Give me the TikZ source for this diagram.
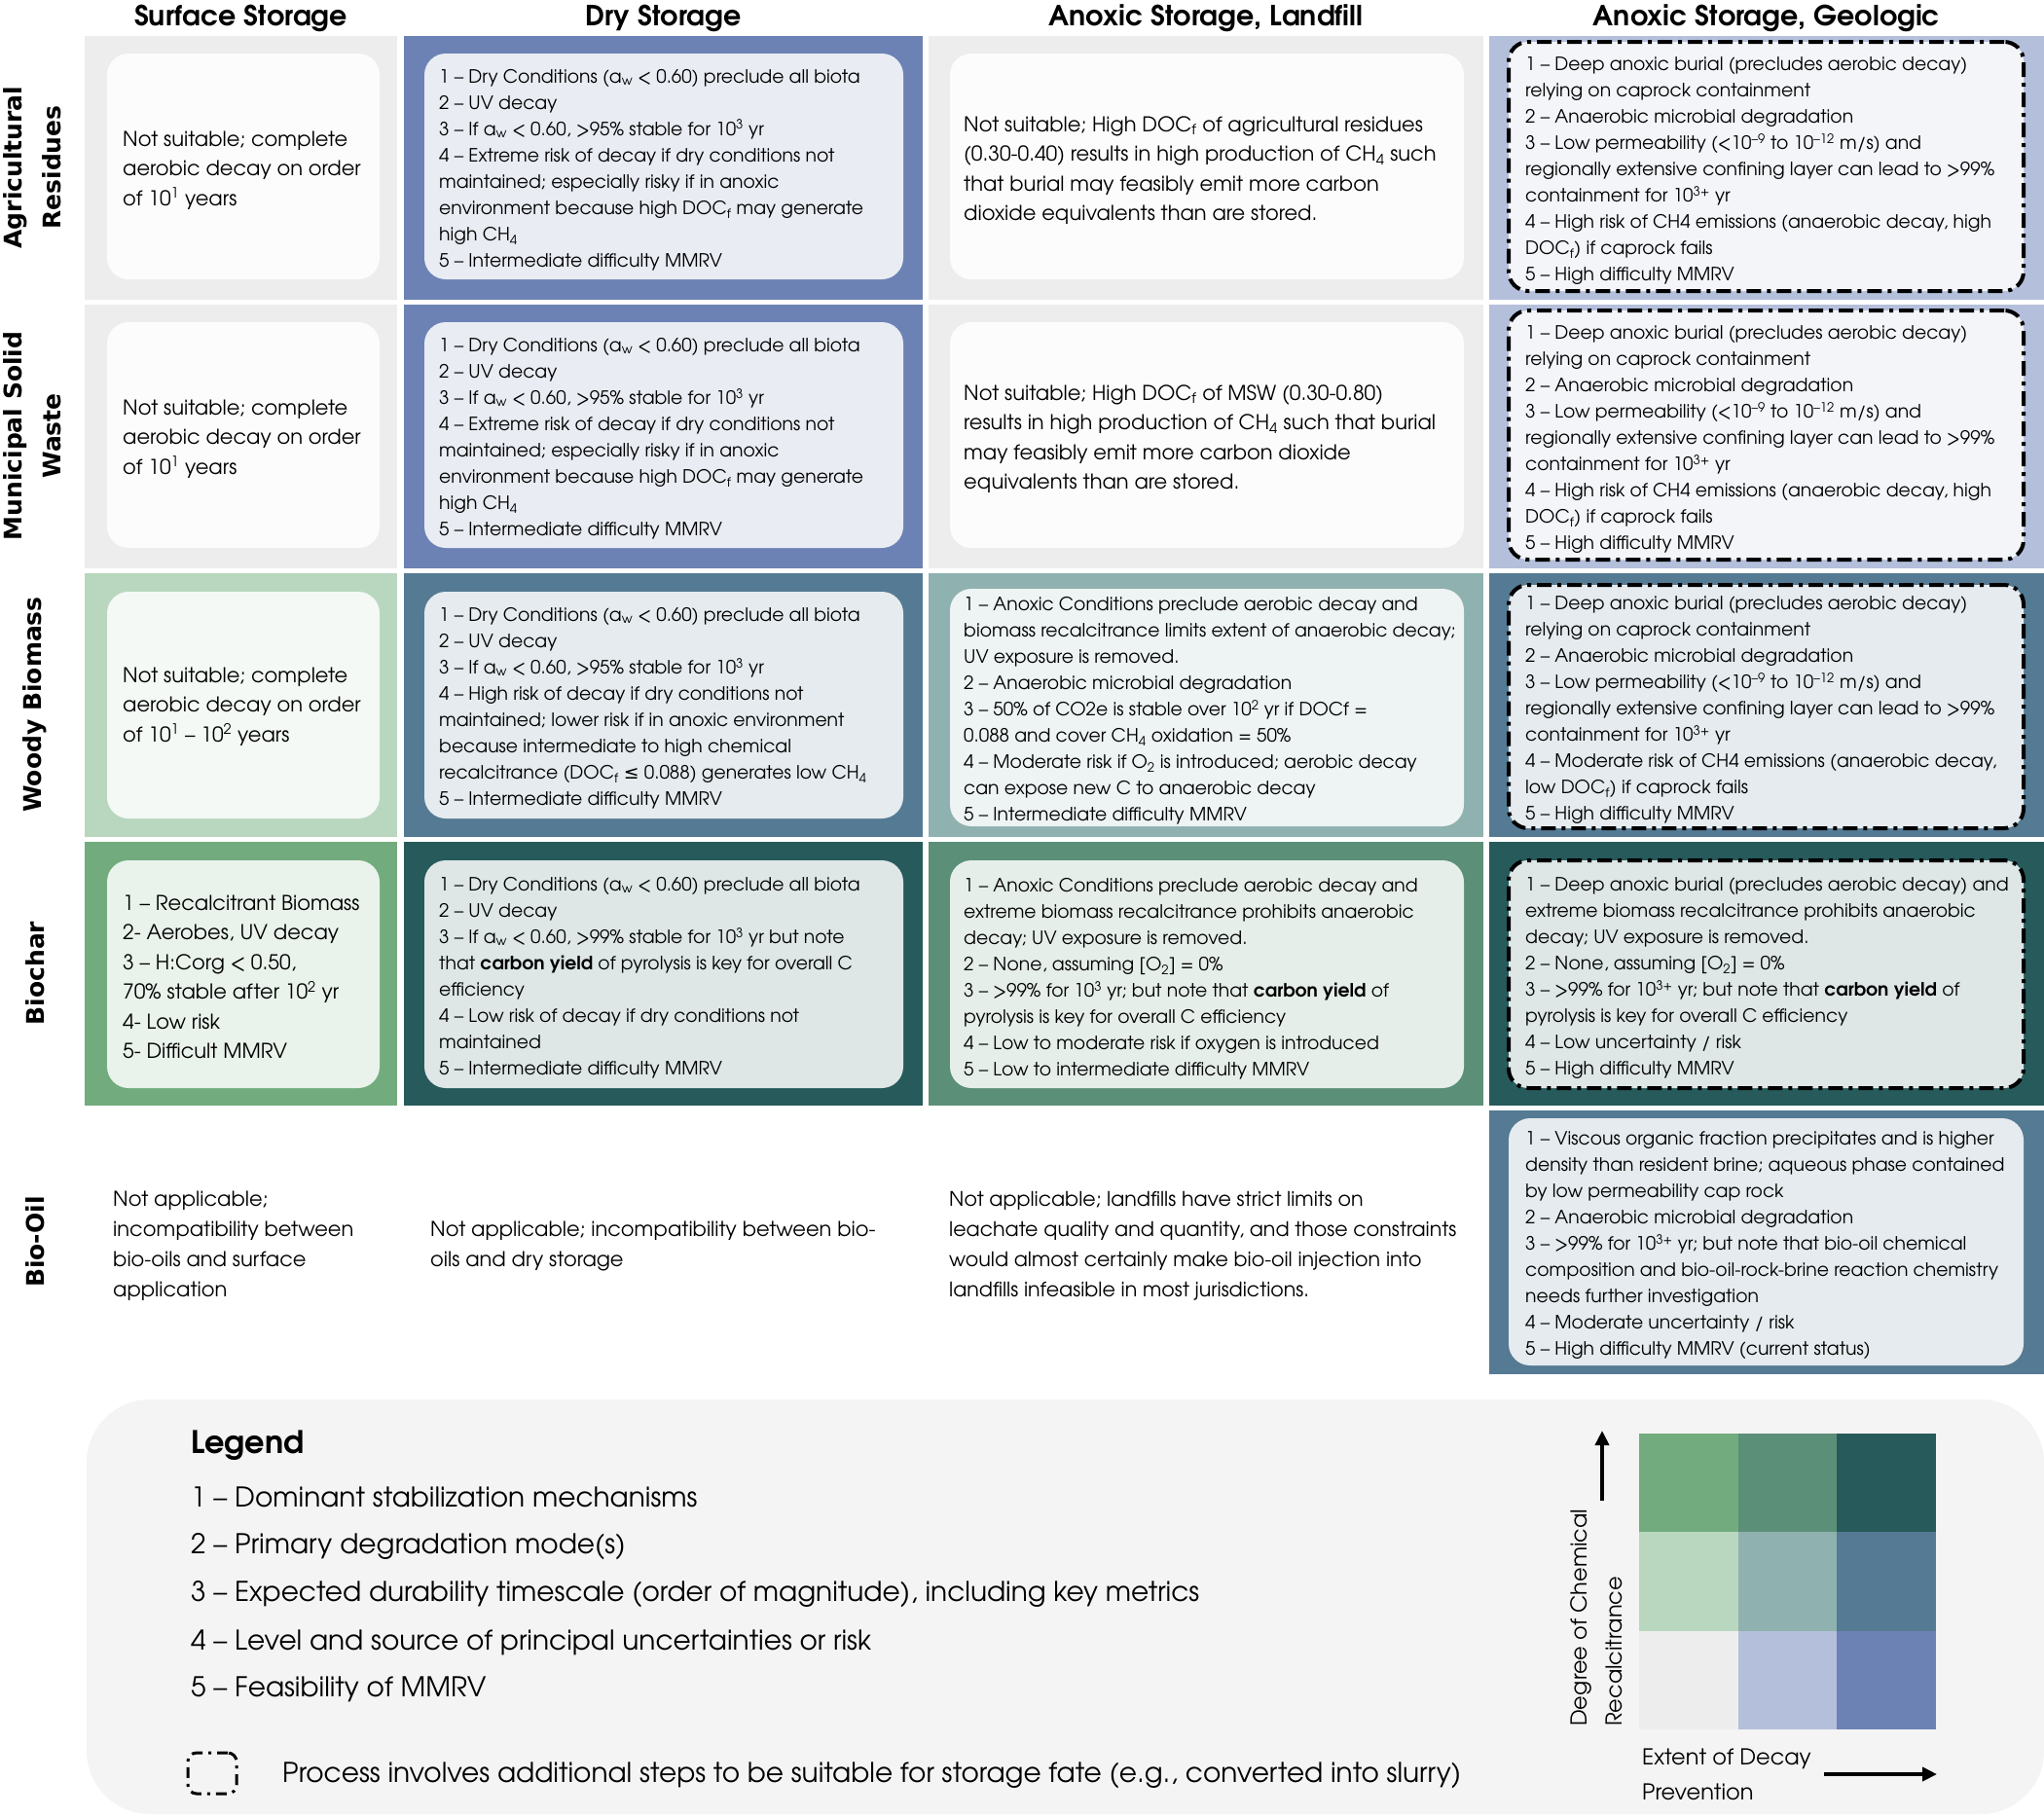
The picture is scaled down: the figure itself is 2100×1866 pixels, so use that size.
\documentclass[tikz,border=0pt]{standalone}
\usepackage{fontspec}
\setmainfont{texgyreadventor}[Extension=.otf, UprightFont=*-regular, BoldFont=*-bold, ItalicFont=*-italic, BoldItalicFont=*-bolditalic]
\newfontfamily\labelfont{DejaVu Sans}
\newfontfamily\symfont{DejaVu Sans}
\usetikzlibrary{arrows.meta}
\definecolor{cgrey}{HTML}{EDEDED}
\definecolor{clav}{HTML}{B4BFDB}
\definecolor{cblue}{HTML}{6C82B5}
\definecolor{clgreen}{HTML}{B9D7BE}
\definecolor{cteal}{HTML}{8FB1AF}
\definecolor{csteel}{HTML}{557A93}
\definecolor{cgreen}{HTML}{72AC7E}
\definecolor{cmid}{HTML}{5B8F77}
\definecolor{cdark}{HTML}{275A5B}
\definecolor{clegend}{HTML}{F4F4F4}
\newcommand{\sbs}[1]{\textsubscript{#1}}
\newcommand{\sps}[1]{\textsuperscript{#1}}
\begin{document}
\begin{tikzpicture}[x=1pt,y=-1pt,
  cellbg/.style={draw=none, inner sep=0pt, outer sep=0pt, anchor=north west},
  ibox/.style={draw=none, fill=white, fill opacity=0.85, rounded corners=22pt, inner sep=0pt, outer sep=0pt, anchor=north west},
  dbox/.style={draw=black, line width=4pt, dash pattern=on 15pt off 6pt on 4pt off 6pt, fill=white, fill opacity=0.85, draw opacity=1, rounded corners=20pt, inner sep=0pt, outer sep=0pt, anchor=north west},
  itext/.style={anchor=west, align=left, inner sep=0pt, yshift=-2.5pt, font=\fontsize{18.8}{27}\selectfont},
  ptext/.style={anchor=west, align=left, inner sep=0pt, yshift=-2pt, font=\fontsize{21}{30.5}\selectfont},
  header/.style={anchor=base, inner sep=0pt, font=\fontsize{28.5}{30}\selectfont\bfseries},
  rowlabel/.style={rotate=90, align=center, inner sep=0pt, font=\fontsize{25}{40}\selectfont\labelfont\bfseries},
  legtext/.style={anchor=west, inner sep=0pt, font=\fontsize{28}{30}\selectfont},
  axtext/.style={anchor=west, inner sep=0pt, font=\fontsize{22.5}{26}\selectfont},
  axarrow/.style={line width=4pt, -{Triangle[length=15pt,width=14pt]}}
]
\useasboundingbox (0,0) rectangle (2100,1866);
\fill[white] (0,0) rectangle (2100,1866);

% headers
\node[header] (h1) at (247.5,26) {Surface Storage};
\node[header] (h2) at (681.5,26) {Dry Storage};
\node[header] (h3) at (1239,26) {Anoxic Storage, Landfill};
\node[header] (h4) at (1815,26) {Anoxic Storage, Geologic};

% row labels
\node[rowlabel] (l1) at (33,172) {Agricultural\\Residues};
\node[rowlabel] (l2) at (33,448) {Municipal Solid\\Waste};
\node[rowlabel] (l3) at (36,724) {Woody Biomass};
\node[rowlabel] (l4) at (36,1000) {Biochar};
\node[rowlabel] (l5) at (36,1276) {Bio-Oil};

% ===== Row 1: Agricultural residues
\node[cellbg, fill=cgrey, minimum width=321pt, minimum height=271pt] (ag-c1) at (87,37) {};
\node[cellbg, fill=cblue, minimum width=533pt, minimum height=271pt] (ag-c2) at (415,37) {};
\node[cellbg, fill=cgrey, minimum width=570pt, minimum height=271pt] (ag-c3) at (954,37) {};
\node[cellbg, fill=clav, minimum width=570pt, minimum height=271pt] (ag-c4) at (1530,37) {};
\node[ibox, minimum width=280pt, minimum height=232pt] (ag-b1) at (110,55) {};
\node[ibox, minimum width=492pt, minimum height=232pt] (ag-b2) at (436,55) {};
\node[ibox, minimum width=528pt, minimum height=232pt] (ag-b3) at (976,55) {};
\node[dbox, minimum width=529pt, minimum height=256pt] (ag-b4) at (1550,43) {};
\node[ptext] (ag-t1) at (126,173) {Not suitable; complete\\aerobic decay on order\\of 10\sps{1} years};
\node[itext] (ag-t2) at (451,172) {1 – Dry Conditions (a\sbs{w} < 0.60) preclude all biota\\2 – UV decay\\3 – If a\sbs{w} < 0.60, >95\% stable for 10\sps{3} yr\\4 – Extreme risk of decay if dry conditions not\\maintained; especially risky if in anoxic\\environment because high DOC\sbs{f} may generate\\high CH\sbs{4}\\5 – Intermediate difficulty MMRV};
\node[ptext] (ag-t3) at (990,173) {Not suitable; High DOC\sbs{f} of agricultural residues\\(0.30-0.40) results in high production of CH\sbs{4} such\\that burial may feasibly emit more carbon\\dioxide equivalents than are stored.};
\node[itext] (ag-t4) at (1567,173) {1 – Deep anoxic burial (precludes aerobic decay)\\relying on caprock containment\\2 – Anaerobic microbial degradation\\3 – Low permeability (<10\sps{–9} to 10\sps{–12} m/s) and\\regionally extensive confining layer can lead to >99\%\\containment for 10\sps{3+} yr\\4 – High risk of CH4 emissions (anaerobic decay, high\\DOC\sbs{f}) if caprock fails\\5 – High difficulty MMRV};

% ===== Row 2: MSW
\node[cellbg, fill=cgrey, minimum width=321pt, minimum height=271pt] (ms-c1) at (87,313) {};
\node[cellbg, fill=cblue, minimum width=533pt, minimum height=271pt] (ms-c2) at (415,313) {};
\node[cellbg, fill=cgrey, minimum width=570pt, minimum height=271pt] (ms-c3) at (954,313) {};
\node[cellbg, fill=clav, minimum width=570pt, minimum height=271pt] (ms-c4) at (1530,313) {};
\node[ibox, minimum width=280pt, minimum height=232pt] (ms-b1) at (110,331) {};
\node[ibox, minimum width=492pt, minimum height=232pt] (ms-b2) at (436,331) {};
\node[ibox, minimum width=528pt, minimum height=232pt] (ms-b3) at (976,331) {};
\node[dbox, minimum width=529pt, minimum height=256pt] (ms-b4) at (1550,319) {};
\node[ptext] (ms-t1) at (126,449) {Not suitable; complete\\aerobic decay on order\\of 10\sps{1} years};
\node[itext] (ms-t2) at (451,448) {1 – Dry Conditions (a\sbs{w} < 0.60) preclude all biota\\2 – UV decay\\3 – If a\sbs{w} < 0.60, >95\% stable for 10\sps{3} yr\\4 – Extreme risk of decay if dry conditions not\\maintained; especially risky if in anoxic\\environment because high DOC\sbs{f} may generate\\high CH\sbs{4}\\5 – Intermediate difficulty MMRV};
\node[ptext] (ms-t3) at (990,449) {Not suitable; High DOC\sbs{f} of MSW (0.30-0.80)\\results in high production of CH\sbs{4} such that burial\\may feasibly emit more carbon dioxide\\equivalents than are stored.};
\node[itext] (ms-t4) at (1567,449) {1 – Deep anoxic burial (precludes aerobic decay)\\relying on caprock containment\\2 – Anaerobic microbial degradation\\3 – Low permeability (<10\sps{–9} to 10\sps{–12} m/s) and\\regionally extensive confining layer can lead to >99\%\\containment for 10\sps{3+} yr\\4 – High risk of CH4 emissions (anaerobic decay, high\\DOC\sbs{f}) if caprock fails\\5 – High difficulty MMRV};

% ===== Row 3: Woody biomass
\node[cellbg, fill=clgreen, minimum width=321pt, minimum height=271pt] (wo-c1) at (87,589) {};
\node[cellbg, fill=csteel, minimum width=533pt, minimum height=271pt] (wo-c2) at (415,589) {};
\node[cellbg, fill=cteal, minimum width=570pt, minimum height=271pt] (wo-c3) at (954,589) {};
\node[cellbg, fill=csteel, minimum width=570pt, minimum height=271pt] (wo-c4) at (1530,589) {};
\node[ibox, minimum width=280pt, minimum height=233pt] (wo-b1) at (110,608) {};
\node[ibox, minimum width=492pt, minimum height=233pt] (wo-b2) at (436,608) {};
\node[ibox, minimum width=528pt, minimum height=244pt] (wo-b3) at (976,605) {};
\node[dbox, minimum width=529pt, minimum height=250pt] (wo-b4) at (1550,601) {};
\node[ptext] (wo-t1) at (126,724) {Not suitable; complete\\aerobic decay on order\\of 10\sps{1} – 10\sps{2} years};
\node[itext] (wo-t2) at (451,725) {1 – Dry Conditions (a\sbs{w} < 0.60) preclude all biota\\2 – UV decay\\3 – If a\sbs{w} < 0.60, >95\% stable for 10\sps{3} yr\\4 – High risk of decay if dry conditions not\\maintained; lower risk if in anoxic environment\\because intermediate to high chemical\\recalcitrance (DOC\sbs{f} {\symfont ≤} 0.088) generates low CH\sbs{4}\\5 – Intermediate difficulty MMRV};
\node[itext] (wo-t3) at (990,728) {1 – Anoxic Conditions preclude aerobic decay and\\biomass recalcitrance limits extent of anaerobic decay;\\UV exposure is removed.\\2 – Anaerobic microbial degradation\\3 – 50\% of CO2e is stable over 10\sps{2} yr if DOCf =\\0.088 and cover CH\sbs{4} oxidation = 50\%\\4 – Moderate risk if O\sbs{2} is introduced; aerobic decay\\can expose new C to anaerobic decay\\5 – Intermediate difficulty MMRV};
\node[itext] (wo-t4) at (1567,727) {1 – Deep anoxic burial (precludes aerobic decay)\\relying on caprock containment\\2 – Anaerobic microbial degradation\\3 – Low permeability (<10\sps{–9} to 10\sps{–12} m/s) and\\regionally extensive confining layer can lead to >99\%\\containment for 10\sps{3+} yr\\4 – Moderate risk of CH4 emissions (anaerobic decay,\\low DOC\sbs{f}) if caprock fails\\5 – High difficulty MMRV};

% ===== Row 4: Biochar
\node[cellbg, fill=cgreen, minimum width=321pt, minimum height=271pt] (bc-c1) at (87,865) {};
\node[cellbg, fill=cdark, minimum width=533pt, minimum height=271pt] (bc-c2) at (415,865) {};
\node[cellbg, fill=cmid, minimum width=570pt, minimum height=271pt] (bc-c3) at (954,865) {};
\node[cellbg, fill=cdark, minimum width=570pt, minimum height=271pt] (bc-c4) at (1530,865) {};
\node[ibox, minimum width=280pt, minimum height=234pt] (bc-b1) at (110,884) {};
\node[ibox, minimum width=492pt, minimum height=234pt] (bc-b2) at (436,884) {};
\node[ibox, minimum width=528pt, minimum height=234pt] (bc-b3) at (976,884) {};
\node[dbox, minimum width=529pt, minimum height=234pt] (bc-b4) at (1550,884) {};
\node[ptext] (bc-t1) at (126,1002) {1 – Recalcitrant Biomass\\2- Aerobes, UV decay\\3 – H:Corg < 0.50,\\70\% stable after 10\sps{2} yr\\4- Low risk\\5- Difficult MMRV};
\node[itext] (bc-t2) at (451,1002) {1 – Dry Conditions (a\sbs{w} < 0.60) preclude all biota\\2 – UV decay\\3 – If a\sbs{w} < 0.60, >99\% stable for 10\sps{3} yr but note\\that \textbf{carbon yield} of pyrolysis is key for overall C\\efficiency\\4 – Low risk of decay if dry conditions not\\maintained\\5 – Intermediate difficulty MMRV};
\node[itext] (bc-t3) at (990,1003) {1 – Anoxic Conditions preclude aerobic decay and\\extreme biomass recalcitrance prohibits anaerobic\\decay; UV exposure is removed.\\2 – None, assuming [O\sbs{2}] = 0\%\\3 – >99\% for 10\sps{3} yr; but note that \textbf{carbon yield} of\\pyrolysis is key for overall C efficiency\\4 – Low to moderate risk if oxygen is introduced\\5 – Low to intermediate difficulty MMRV};
\node[itext] (bc-t4) at (1567,1003) {1 – Deep anoxic burial (precludes aerobic decay) and\\extreme biomass recalcitrance prohibits anaerobic\\decay; UV exposure is removed.\\2 – None, assuming [O\sbs{2}] = 0\%\\3 – >99\% for 10\sps{3+} yr; but note that \textbf{carbon yield} of\\pyrolysis is key for overall C efficiency\\4 – Low uncertainty / risk\\5 – High difficulty MMRV};

% ===== Row 5: Bio-oil
\node[cellbg, fill=csteel, minimum width=570pt, minimum height=271pt] (bo-c4) at (1530,1141) {};
\node[ibox, minimum width=529pt, minimum height=254pt] (bo-b4) at (1550,1149) {};
\node[ptext, font=\fontsize{21}{31}\selectfont] (bo-t1) at (116,1278) {Not applicable;\\incompatibility between\\bio-oils and surface\\application};
\node[ptext, font=\fontsize{21}{31}\selectfont] (bo-t2) at (442,1278) {Not applicable; incompatibility between bio-\\oils and dry storage};
\node[ptext, font=\fontsize{20.6}{31}\selectfont] (bo-t3) at (975,1278) {Not applicable; landfills have strict limits on\\leachate quality and quantity, and those constraints\\would almost certainly make bio-oil injection into\\landfills infeasible in most jurisdictions.};
\node[itext] (bo-t4) at (1567,1277) {1 – Viscous organic fraction precipitates and is higher\\density than resident brine; aqueous phase contained\\by low permeability cap rock\\2 – Anaerobic microbial degradation\\3 – >99\% for 10\sps{3+} yr; but note that bio-oil chemical\\composition and bio-oil-rock-brine reaction chemistry\\needs further investigation\\4 – Moderate uncertainty / risk\\5 – High difficulty MMRV (current status)};

% ===== Legend
\node[cellbg, fill=clegend, rounded corners=65pt, minimum width=2011pt, minimum height=426pt] (lg-bg) at (89,1438) {};
\node[legtext, font=\fontsize{32}{34}\selectfont\bfseries] (lg-title) at (196,1485) {Legend};
\node[legtext] (lg-1) at (196,1538) {1 – Dominant stabilization mechanisms};
\node[legtext] (lg-2) at (196,1589) {2 – Primary degradation mode(s)};
\node[legtext] (lg-3) at (196,1638) {3 – Expected durability timescale (order of magnitude), including key metrics};
\node[legtext] (lg-4) at (196,1688) {4 – Level and source of principal uncertainties or risk};
\node[legtext] (lg-5) at (196,1736) {5 – Feasibility of MMRV};
\node[cellbg, draw=black, line width=3pt, dash pattern=on 11pt off 6pt on 3pt off 6pt, rounded corners=9pt, minimum width=50pt, minimum height=42pt] (lg-icon) at (193,1801) {};
\node[legtext] (lg-6) at (290,1824) {Process involves additional steps to be suitable for storage fate (e.g., converted into slurry)};

% legend matrix
\node[cellbg, fill=cgreen, minimum width=101.7pt, minimum height=101.3pt] (m11) at (1684,1473) {};
\node[cellbg, fill=cmid, minimum width=101.7pt, minimum height=101.3pt] (m12) at (1785.7,1473) {};
\node[cellbg, fill=cdark, minimum width=101.7pt, minimum height=101.3pt] (m13) at (1887.4,1473) {};
\node[cellbg, fill=clgreen, minimum width=101.7pt, minimum height=101.3pt] (m21) at (1684,1574.3) {};
\node[cellbg, fill=cteal, minimum width=101.7pt, minimum height=101.3pt] (m22) at (1785.7,1574.3) {};
\node[cellbg, fill=csteel, minimum width=101.7pt, minimum height=101.3pt] (m23) at (1887.4,1574.3) {};
\node[cellbg, fill=cgrey, minimum width=101.7pt, minimum height=101.3pt] (m31) at (1684,1675.6) {};
\node[cellbg, fill=clav, minimum width=101.7pt, minimum height=101.3pt] (m32) at (1785.7,1675.6) {};
\node[cellbg, fill=cblue, minimum width=101.7pt, minimum height=101.3pt] (m33) at (1887.4,1675.6) {};

\coordinate (upS) at (1646,1542);
\coordinate (upE) at (1646,1470);
\draw[axarrow] (upS) -- (upE);
\coordinate (rtS) at (1874,1823);
\coordinate (rtE) at (1990,1823);
\draw[axarrow] (rtS) -- (rtE);

\node[axtext, rotate=90] (ax-1) at (1624,1774) {Degree of Chemical};
\node[axtext, rotate=90] (ax-2) at (1658,1774) {Recalcitrance};
\node[axtext] (ax-3) at (1687,1807) {Extent of Decay};
\node[axtext] (ax-4) at (1687,1841) {Prevention};
\end{tikzpicture}
\end{document}
